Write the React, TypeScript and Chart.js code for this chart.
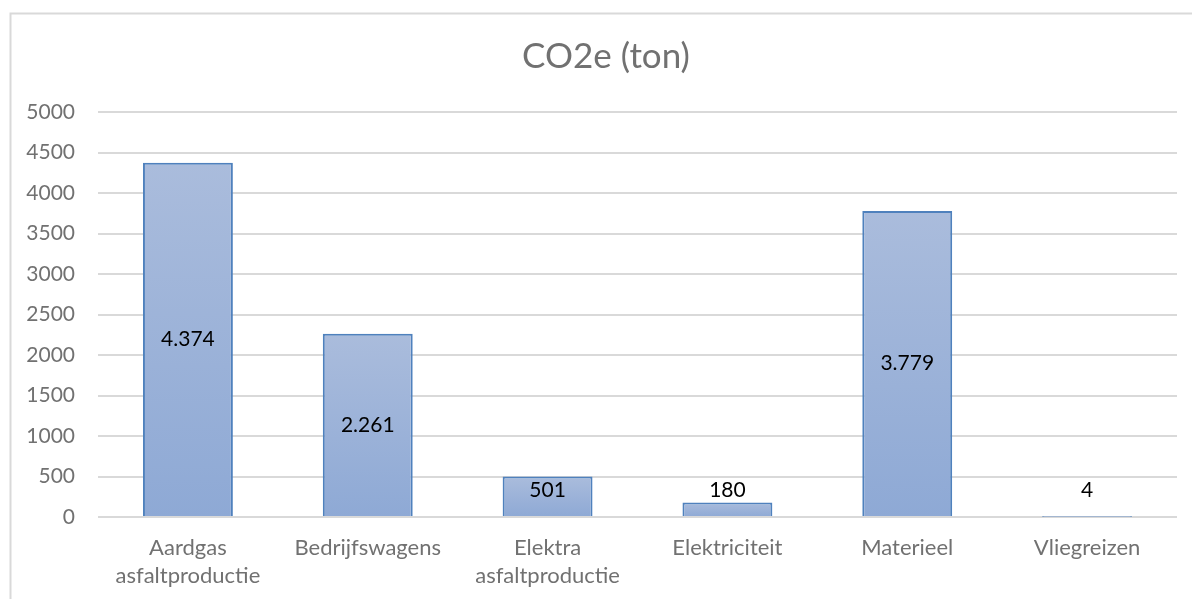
import React, { useEffect, useRef } from "react";
import { Chart, registerables } from "chart.js";

Chart.register(...registerables);

const categories: (string | string[])[] = [
  ["Aardgas", "asfaltproductie"],
  "Bedrijfswagens",
  ["Elektra", "asfaltproductie"],
  "Elektriciteit",
  "Materieel",
  "Vliegreizen",
];
const co2Values = [4374, 2261, 501, 180, 3779, 4];
const chartTitle = "CO2e (ton)";
const yMax = 5000;
const yStep = 500;

const FONT = "Lato, 'Open Sans', sans-serif";
const GRAY = "#717171";

function formatNl(v: number): string {
  return String(Math.round(v)).replace(/\B(?=(\d{3})+(?!\d))/g, ".");
}

const framePlugin = {
  id: "frame",
  afterLayout(chart: any) {
    // the chart frame extends past the right edge, so the title is centred on it
    const tb = chart.titleBlock;
    if (tb) {
      tb.left += 35;
    }
  },
  beforeDraw(chart: any) {
    const c = chart.ctx;
    c.save();
    c.fillStyle = "#ffffff";
    c.fillRect(0, 0, chart.width, chart.height);
    c.strokeStyle = "#d9d9d9";
    c.lineWidth = 2;
    c.beginPath();
    c.moveTo(10.5, chart.height);
    c.lineTo(10.5, 13.5);
    c.lineTo(chart.width, 13.5);
    c.stroke();
    c.restore();
  },
};

const labelPlugin = {
  id: "barLabels",
  afterDatasetsDraw(chart: any) {
    const c = chart.ctx;
    const meta = chart.getDatasetMeta(0);
    c.save();
    c.font = `21px ${FONT}`;
    c.fillStyle = "#000000";
    c.textAlign = "center";
    c.textBaseline = "middle";
    meta.data.forEach((el: any, i: number) => {
      const v = co2Values[i];
      const mid = (el.y + el.base) / 2;
      const y = Math.min(mid, el.base - 26);
      c.fillText(formatNl(v), el.x, y);
    });
    c.restore();
  },
};

export default function App() {
  const canvasRef = useRef<HTMLCanvasElement | null>(null);

  useEffect(() => {
    if (!canvasRef.current) return;
    const chart = new Chart(canvasRef.current, {
      type: "bar",
      data: {
        labels: categories,
        datasets: [
          {
            label: chartTitle,
            data: co2Values,
            backgroundColor: (ctx: any) => {
              if (ctx.type !== "data") return "#9db2d9";
              const ys = ctx.chart.scales.y;
              if (!ys) return "#9db2d9";
              const top = ys.getPixelForValue(ctx.raw);
              const bottom = ys.getPixelForValue(0);
              if (!isFinite(top) || !isFinite(bottom) || Math.abs(bottom - top) < 1) return "#9db2d9";
              const g = ctx.chart.ctx.createLinearGradient(0, top, 0, bottom);
              g.addColorStop(0, "#aabcdc");
              g.addColorStop(1, "#8ea9d5");
              return g;
            },
            borderColor: "#4f81bd",
            borderWidth: 2,
            barPercentage: 0.5,
            categoryPercentage: 1,
          },
        ],
      },
      options: {
        responsive: false,
        animation: false,
        layout: { padding: { left: 0, right: 15, top: 0, bottom: 0 } },
        plugins: {
          legend: { display: false },
          tooltip: { enabled: false },
          title: {
            display: true,
            text: chartTitle,
            color: GRAY,
            font: { family: FONT, size: 35, weight: "normal" },
            padding: { top: 36, bottom: 34 },
          },
        },
        scales: {
          x: {
            grid: { display: false, drawTicks: false },
            border: { display: false },
            ticks: {
              color: GRAY,
              font: { family: FONT, size: 22, lineHeight: 1.27 },
              padding: 17,
              maxRotation: 0,
              autoSkip: false,
            },
            afterFit: (scale: any) => {
              scale.height = 82;
            },
          },
          y: {
            min: 0,
            max: yMax,
            grid: { color: "#d9d9d9", lineWidth: 2, drawTicks: false },
            border: { display: false },
            ticks: {
              stepSize: yStep,
              color: GRAY,
              font: { family: FONT, size: 21 },
              padding: 23,
              callback: (v: any) => String(v),
            },
            afterFit: (scale: any) => {
              scale.width = 98;
            },
          },
        },
      },
      plugins: [framePlugin, labelPlugin],
    } as any);
    return () => chart.destroy();
  }, []);

  return (
    <div style={{ position: "absolute", left: 0, top: 0, width: 1192, height: 599 }}>
      <canvas ref={canvasRef} width={1192} height={599} />
    </div>
  );
}
